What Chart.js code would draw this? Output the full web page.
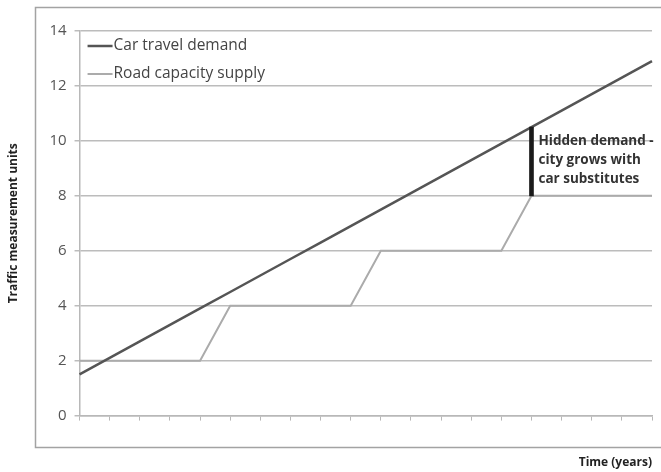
<!DOCTYPE html>
<html lang="en">
<head>
<meta charset="UTF-8">
<title>Car travel demand vs road capacity</title>
<script src="https://cdn.jsdelivr.net/npm/chart.js"></script>
<style>
  html, body { margin: 0; padding: 0; background: #fff; }
</style>
</head>
<body>
<canvas id="trafficChart" width="661" height="472"></canvas>
<script>
// years along the x axis (no labels shown, just tick marks)
const years = ['1', '2', '3', '4', '5', '6', '7', '8', '9', '10',
               '11', '12', '13', '14', '15', '16', '17', '18', '19', '20'];
const carDemand = [1.5, 2.1, 2.7, 3.3, 3.9, 4.5, 5.1, 5.7, 6.3, 6.9,
                   7.5, 8.1, 8.7, 9.3, 9.9, 10.5, 11.1, 11.7, 12.3, 12.9];
const roadSupply = [2, 2, 2, 2, 2, 4, 4, 4, 4, 4,
                    6, 6, 6, 6, 6, 8, 8, 8, 8, 8];
// gap between supply and demand in year 16
const hiddenDemand = [null, null, null, null, null, null, null, null, null, null,
                      null, null, null, null, null, [8, 10.5], null, null, null, null];
const noteLines = ['Hidden demand -', 'city grows with', 'car substitutes'];
const noteIndex = 15;

const FONT = "'Open Sans', 'Liberation Sans', sans-serif";
const GRID = '#bcbcbc';

const framePlugin = {
    id: 'frame',
    beforeDraw(chart) {
        const ctx = chart.ctx;
        ctx.save();
        ctx.strokeStyle = '#a3a3a3';
        ctx.lineWidth = 1.5;
        ctx.strokeRect(35.5, 7.5, 650, 440);
        ctx.restore();
    }
};

// legend sits inside the plot, top left, line sample then text
const legendPlugin = {
    id: 'insideLegend',
    afterDraw(chart) {
        const ctx = chart.ctx;
        const area = chart.chartArea;
        let y = area.top + 15;
        ctx.save();
        ctx.font = '15.5px ' + FONT;
        ctx.textBaseline = 'middle';
        ctx.textAlign = 'left';
        chart.data.datasets.forEach(ds => {
            if (ds.type === 'bar') return;
            ctx.strokeStyle = ds.borderColor;
            ctx.lineWidth = ds.borderWidth;
            ctx.beginPath();
            ctx.moveTo(area.left + 8, y);
            ctx.lineTo(area.left + 33, y);
            ctx.stroke();
            ctx.fillStyle = '#444';
            ctx.fillText(ds.label, area.left + 34, y);
            y += 28;
        });
        ctx.restore();
    }
};

const notePlugin = {
    id: 'note',
    afterDatasetsDraw(chart) {
        const ctx = chart.ctx;
        const x = chart.scales.x.getPixelForValue(noteIndex) + 7;
        let y = chart.scales.y.getPixelForValue(10);
        ctx.save();
        ctx.fillStyle = '#333';
        ctx.font = 'bold 13.5px ' + FONT;
        ctx.textAlign = 'left';
        ctx.textBaseline = 'middle';
        noteLines.forEach(line => {
            ctx.fillText(line, x, y);
            y += 19;
        });
        ctx.restore();
    }
};

new Chart(document.getElementById('trafficChart'), {
    type: 'line',
    data: {
        labels: years,
        datasets: [
            {
                label: 'Car travel demand',
                data: carDemand,
                borderColor: '#555555',
                borderWidth: 2.5,
                pointRadius: 0,
                tension: 0,
                fill: false,
                order: 1
            },
            {
                label: 'Road capacity supply',
                data: roadSupply,
                borderColor: '#ababab',
                borderWidth: 2,
                pointRadius: 0,
                tension: 0,
                fill: false,
                order: 2
            },
            {
                type: 'bar',
                label: 'hidden',
                data: hiddenDemand,
                backgroundColor: '#1a1a1a',
                borderWidth: 0,
                barThickness: 4,
                order: 0
            }
        ]
    },
    options: {
        responsive: false,
        animation: false,
        layout: { padding: { top: 31, right: 9, left: 4, bottom: 0 } },
        plugins: {
            tooltip: { enabled: false },
            legend: { display: false }
        },
        scales: {
            x: {
                offset: false,
                border: { color: '#b8b8b8', width: 1.5 },
                grid: { drawOnChartArea: false, offset: false, color: '#b8b8b8', tickLength: 5, lineWidth: 1 },
                ticks: { display: false },
                title: {
                    display: true,
                    text: 'Time (years)',
                    align: 'end',
                    color: '#222',
                    font: { family: FONT, size: 12, weight: 'bold' },
                    padding: { top: 35, bottom: 2 }
                }
            },
            y: {
                min: 0,
                max: 14,
                border: { color: '#b8b8b8', width: 1.5 },
                grid: { color: GRID, lineWidth: 1.5, tickLength: 5 },
                ticks: {
                    stepSize: 2,
                    padding: 8,
                    color: '#555',
                    font: { family: FONT, size: 15 }
                },
                title: {
                    display: true,
                    text: 'Traffic measurement units',
                    color: '#222',
                    font: { family: FONT, size: 12, weight: 'bold' },
                    padding: { top: 2, bottom: 21 }
                }
            }
        }
    },
    plugins: [framePlugin, notePlugin, legendPlugin]
});
</script>
</body>
</html>
